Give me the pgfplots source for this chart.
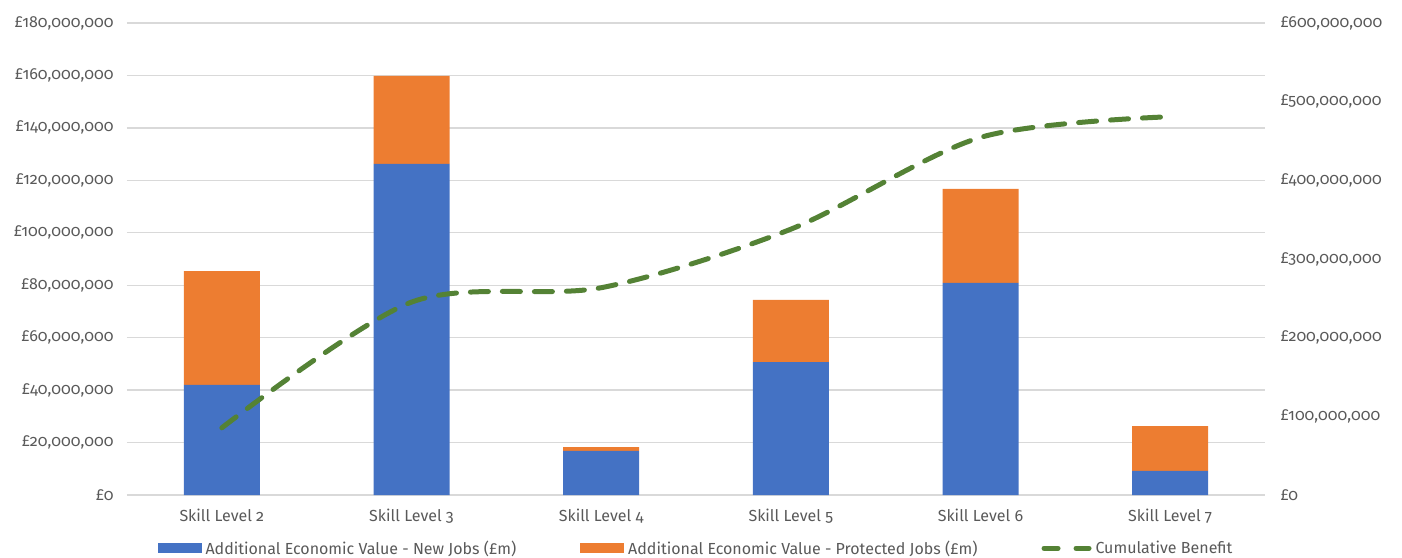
\documentclass[border=0pt]{standalone}
\usepackage{pgfplots}
\usepackage{pgfplotstable}
\pgfplotsset{compat=1.18}
\usepackage{fontspec}
\setmainfont{Fira Sans}[Numbers=OldStyle]

\definecolor{barblue}{HTML}{4472C4}
\definecolor{barorange}{HTML}{ED7D31}
\definecolor{cumgreen}{HTML}{548235}
\definecolor{labelgrey}{HTML}{595959}
\definecolor{gridgrey}{HTML}{D9D9D9}

% economic value by skill level (in millions of pounds)
\pgfplotstableread{
x new protected cumulative
0 42.0 43.4 85.4
1 126.3 33.5 245.2
2 16.8 1.5 263.5
3 50.7 23.7 337.9
4 80.9 35.8 454.6
5 9.2 17.1 480.9
}\skilldata

\begin{document}
\begin{tikzpicture}[font=\fontsize{16}{19}\selectfont]
\path[use as bounding box, clip] (-127pt,-62pt) rectangle (1275pt,495pt);
\begin{axis}[
  at={(0pt,0pt)}, anchor=south west,
  scale only axis, width=1138pt, height=472pt,
  xmin=-0.5, xmax=5.5, ymin=0, ymax=180,
  axis line style={draw=none},
  major tick length=0pt,
  ymajorgrids, grid style={gridgrey, line width=1.3pt},
  ytick={0,20,...,180},
  yticklabels={{£0},{£20,000,000},{£40,000,000},{£60,000,000},{£80,000,000},{£100,000,000},{£120,000,000},{£140,000,000},{£160,000,000},{£180,000,000}},
  yticklabel style={labelgrey, xshift=-10pt},
  xtick=data,
  xticklabels={Skill Level 2,Skill Level 3,Skill Level 4,Skill Level 5,Skill Level 6,Skill Level 7},
  xticklabel style={labelgrey, yshift=-10pt},
  ybar stacked, bar width=76pt,
  legend columns=3,
  legend style={at={(0.5,-0.088)}, anchor=north, draw=none, fill=none,
    text=labelgrey, font=\fontsize{16}{19}\selectfont,
    /tikz/every even column/.append style={column sep=62pt},
    /tikz/every odd column/.append style={column sep=2pt}},
]
\addplot[fill=barblue, draw=none,
  legend image code/.code={\fill[barblue] (0pt,-5pt) rectangle (44pt,5pt);}]
  table[x=x, y=new] {\skilldata};
\addlegendentry{Additional Economic Value - New Jobs (£m)}
\addplot[fill=barorange, draw=none,
  legend image code/.code={\fill[barorange] (0pt,-5pt) rectangle (44pt,5pt);}]
  table[x=x, y=protected] {\skilldata};
\addlegendentry{Additional Economic Value - Protected Jobs (£m)}
\addlegendimage{legend image code/.code={\draw[cumgreen, line width=5pt, line cap=round, dash pattern=on 14pt off 18pt] (3pt,0pt) -- (48pt,0pt);}}
\addlegendentry{Cumulative Benefit}
\end{axis}
\begin{axis}[
  at={(0pt,0pt)}, anchor=south west,
  scale only axis, width=1138pt, height=472pt,
  xmin=-0.5, xmax=5.5, ymin=0, ymax=600,
  axis x line=none,
  axis y line*=right,
  axis line style={draw=none},
  major tick length=0pt,
  ytick={0,100,...,600},
  yticklabels={{£0},{£100,000,000},{£200,000,000},{£300,000,000},{£400,000,000},{£500,000,000},{£600,000,000}},
  yticklabel style={labelgrey, xshift=12pt},
]
\addplot[cumgreen, line width=5pt, line cap=round, smooth, tension=0.5,
  dash pattern=on 18pt off 14pt]
  table[x=x, y=cumulative] {\skilldata};
\end{axis}
\end{tikzpicture}
\end{document}
